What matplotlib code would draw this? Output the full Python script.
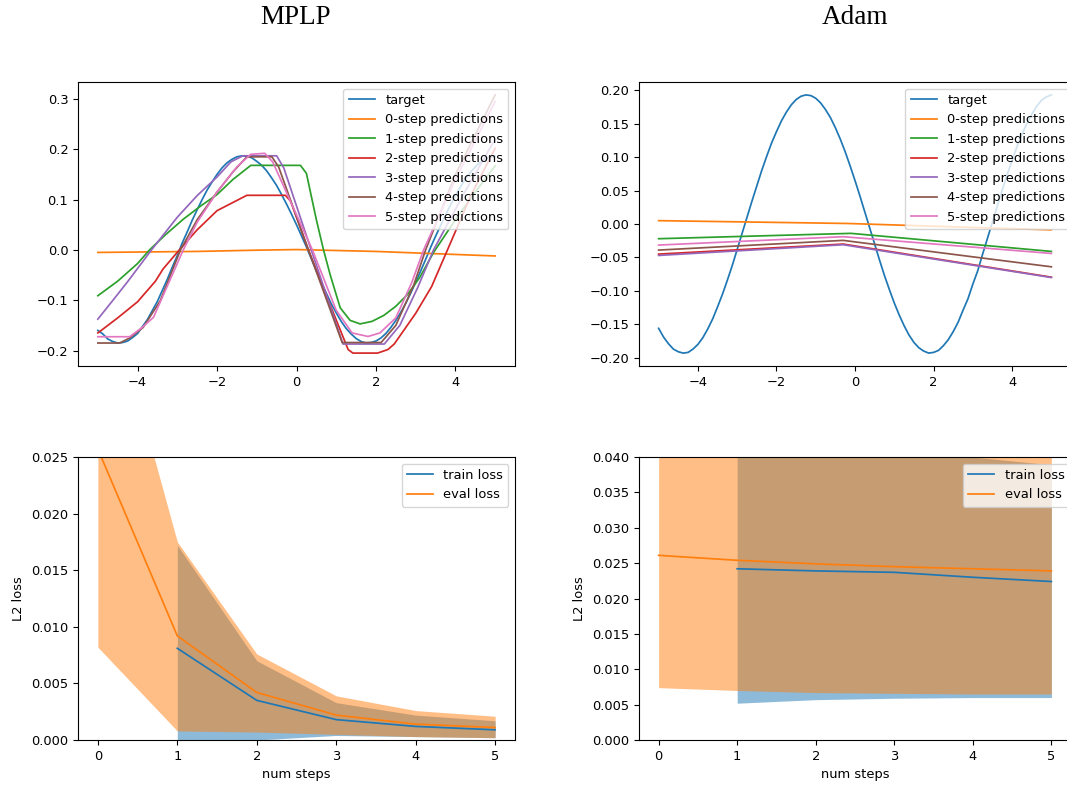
import numpy as np
import matplotlib
matplotlib.use('Agg')
import matplotlib.pyplot as plt

plt.rcParams['font.size'] = 9.4

# ---- top row: sine regression, x from -5 to 5 ----
x_grid = np.linspace(-5, 5, 81)

mplp_target = [
    -0.160, -0.167, -0.177, -0.182, -0.185, -0.184, -0.181, -0.174,
    -0.166, -0.152, -0.138, -0.120, -0.102, -0.080, -0.058, -0.034,
    -0.011, 0.014, 0.036, 0.059, 0.080, 0.100, 0.119, 0.135,
    0.150, 0.163, 0.173, 0.180, 0.185, 0.187, 0.186, 0.183,
    0.176, 0.168, 0.157, 0.143, 0.128, 0.110, 0.091, 0.071,
    0.050, 0.028, 0.006, -0.018, -0.042, -0.065, -0.086, -0.107,
    -0.125, -0.142, -0.156, -0.167, -0.176, -0.182, -0.185, -0.184,
    -0.181, -0.175, -0.166, -0.154, -0.140, -0.124, -0.106, -0.086,
    -0.064, -0.042, -0.019, 0.005, 0.027, 0.048, 0.069, 0.089,
    0.108, 0.125, 0.141, 0.154, 0.165, 0.174, 0.181, 0.185,
    0.186]

adam_target = [
    -0.156, -0.169, -0.179, -0.187, -0.191, -0.193, -0.192, -0.187,
    -0.180, -0.170, -0.157, -0.142, -0.124, -0.105, -0.084, -0.062,
    -0.038, -0.014, 0.010, 0.034, 0.057, 0.080, 0.101, 0.121,
    0.138, 0.154, 0.167, 0.178, 0.186, 0.191, 0.193, 0.192,
    0.188, 0.181, 0.171, 0.159, 0.144, 0.127, 0.108, 0.087,
    0.065, 0.042, 0.018, -0.006, -0.030, -0.054, -0.077, -0.098,
    -0.118, -0.136, -0.152, -0.166, -0.177, -0.185, -0.190, -0.193,
    -0.192, -0.189, -0.182, -0.173, -0.161, -0.147, -0.129, -0.112,
    -0.090, -0.070, -0.045, -0.021, 0.003, 0.027, 0.051, 0.074,
    0.095, 0.116, 0.134, 0.150, 0.164, 0.176, 0.185, 0.190,
    0.193]

# MPLP k-step predictions (x, y)
mplp_pred = [
    ([-5, -2.5, -1, 0, 2, 4, 5],
     [-0.005, -0.003, -0.0005, 0.0007, -0.003, -0.009, -0.012]),
    ([-5, -4.5, -4, -3.7, -3.3, -2.85, -2.4, -2.0, -1.6, -1.15, 0.1, 0.25, 0.5,
      0.68, 0.85, 1.1, 1.35, 1.6, 1.9, 2.2, 2.5, 2.8, 3.1, 3.45, 4.0, 4.5, 5.0],
     [-0.091, -0.062, -0.027, 0.0, 0.03, 0.061, 0.088, 0.11, 0.14, 0.168, 0.168,
      0.152, 0.06, 0.0, -0.05, -0.115, -0.14, -0.147, -0.142, -0.13, -0.112,
      -0.088, -0.055, -0.005, 0.06, 0.115, 0.167]),
    ([-5, -4.5, -4.0, -3.55, -3.36, -2.95, -2.5, -2.0, -1.25, -0.28, -0.15, 0.3,
      0.8, 1.3, 1.42, 2.04, 2.3, 2.46, 3.0, 3.4, 3.8, 4.4, 5.0],
     [-0.165, -0.135, -0.103, -0.062, -0.038, 0.0, 0.04, 0.078, 0.1085, 0.1085,
      0.097, 0.0, -0.1, -0.198, -0.205, -0.205, -0.198, -0.187, -0.126, -0.073,
      0.0, 0.11, 0.202]),
    ([-5, -4.6, -4.24, -3.65, -3.0, -2.5, -2.0, -1.65, -1.35, -0.5, -0.32, 0.37,
      0.52, 1.17, 2.21, 2.6, 3.05, 3.45, 4.2, 5.0],
     [-0.1375, -0.098, -0.062, 0.0, 0.065, 0.108, 0.145, 0.175, 0.187, 0.187,
      0.163, 0.0, -0.035, -0.187, -0.187, -0.15, -0.075, 0.0, 0.11, 0.22]),
    ([-5, -4.45, -4.2, -3.86, -3.43, -2.92, -2.5, -2.0, -1.6, -1.25, -0.62, -0.45,
      0.3, 1.15, 2.13, 2.5, 2.95, 3.25, 4.0, 5.0],
     [-0.185, -0.185, -0.175, -0.154, -0.101, 0.0, 0.06, 0.115, 0.155, 0.185,
      0.185, 0.165, 0.0, -0.184, -0.184, -0.15, -0.07, 0.0, 0.15, 0.308]),
    ([-5, -4.2, -3.9, -3.6, -3.27, -2.85, -2.5, -2.0, -1.5, -1.15, -0.8, -0.6,
      0.4, 1.0, 1.4, 1.8, 2.1, 2.5, 2.9, 3.2, 4.0, 5.0],
     [-0.1725, -0.1725, -0.155, -0.134, -0.075, 0.0, 0.055, 0.115, 0.165, 0.19,
      0.192, 0.175, 0.0, -0.12, -0.165, -0.172, -0.165, -0.135, -0.065, 0.0,
      0.14, 0.295]),
]

# Adam k-step predictions (x, y)
adam_pred = [
    ([-5, -0.2, 5], [0.005, 0.0008, -0.0088]),
    ([-5, -0.1, 5], [-0.022, -0.014, -0.041]),
    ([-5, -0.3, 5], [-0.045, -0.030, -0.0795]),
    ([-5, -0.3, 5], [-0.047, -0.031, -0.080]),
    ([-5, -0.3, 5], [-0.039, -0.0245, -0.064]),
    ([-5, -0.3, 5], [-0.0315, -0.019, -0.044]),
]

pred_labels = ['0-step predictions', '1-step predictions', '2-step predictions',
               '3-step predictions', '4-step predictions', '5-step predictions']

# ---- bottom row: loss vs num steps ----
eval_steps = [0, 1, 2, 3, 4, 5]
train_steps = [1, 2, 3, 4, 5]

mplp_eval = [0.0257, 0.0092, 0.0042, 0.0022, 0.0014, 0.0011]
mplp_eval_lo = [0.0082, 0.0008, 0.0007, 0.0005, 0.0003, 0.0002]
mplp_eval_hi = [0.0430, 0.0175, 0.0076, 0.0039, 0.0026, 0.0021]
mplp_train = [0.0081, 0.0035, 0.0018, 0.0012, 0.0009]
mplp_train_lo = [-0.0010, 0.0000, 0.0004, 0.0003, 0.0002]
mplp_train_hi = [0.0172, 0.0070, 0.0033, 0.0022, 0.0017]

adam_eval = [0.0261, 0.0254, 0.0249, 0.0245, 0.0242, 0.0239]
adam_eval_lo = [0.0074, 0.0070, 0.0067, 0.0066, 0.0065, 0.0065]
adam_eval_hi = [0.0447, 0.0439, 0.0431, 0.0424, 0.0419, 0.0412]
adam_train = [0.0242, 0.0239, 0.0237, 0.0230, 0.0224]
adam_train_lo = [0.0052, 0.0057, 0.0059, 0.0060, 0.0060]
adam_train_hi = [0.0432, 0.0421, 0.0415, 0.0400, 0.0389]

W, H = 1067, 785
fig = plt.figure(figsize=(W / 100, H / 100), dpi=100)


def box(l, t, r, b):
    return [l / W, 1 - b / H, (r - l) / W, (b - t) / H]


ax_tl = fig.add_axes(box(78, 82, 515, 366))
ax_tr = fig.add_axes(box(639, 82, 1071, 366))
ax_bl = fig.add_axes(box(78, 457, 515, 740))
ax_br = fig.add_axes(box(639, 457, 1071, 740))

lw = 1.25
for ax, target, preds, anchor in [(ax_tl, mplp_target, mplp_pred, 1.0),
                                  (ax_tr, adam_target, adam_pred, 1.014)]:
    ax.plot(x_grid, target, color='C0', lw=lw, label='target')
    for i, (px, py) in enumerate(preds):
        ax.plot(px, py, color='C%d' % (i + 1), lw=lw, label=pred_labels[i])
    ax.legend(loc='upper right', bbox_to_anchor=(anchor, 1.0))

for ax, tr, tr_lo, tr_hi, ev, ev_lo, ev_hi, top, anchor in [
        (ax_bl, mplp_train, mplp_train_lo, mplp_train_hi, mplp_eval, mplp_eval_lo, mplp_eval_hi, 0.025, 1.0),
        (ax_br, adam_train, adam_train_lo, adam_train_hi, adam_eval, adam_eval_lo, adam_eval_hi, 0.040, 1.012)]:
    ax.fill_between(train_steps, tr_lo, tr_hi, color='C0', alpha=0.5, lw=0)
    ax.fill_between(eval_steps, ev_lo, ev_hi, color='C1', alpha=0.5, lw=0)
    ax.plot(train_steps, tr, color='C0', lw=lw, label='train loss')
    ax.plot(eval_steps, ev, color='C1', lw=lw, label='eval loss')
    ax.set_ylim(0, top)
    ax.set_xlabel('num steps')
    ax.set_ylabel('L2 loss')
    ax.legend(loc='upper right', bbox_to_anchor=(anchor, 1.0))

ax_bl.set_yticks(np.arange(0, 0.0251, 0.005))
ax_br.set_yticks(np.arange(0, 0.0401, 0.005))
ax_bl.yaxis.set_major_formatter(matplotlib.ticker.FormatStrFormatter('%.3f'))
ax_br.yaxis.set_major_formatter(matplotlib.ticker.FormatStrFormatter('%.3f'))

serif = ['Liberation Serif', 'DejaVu Serif']
fig.text(296 / W, 1 - 18 / H, 'MPLP', ha='center', va='center', fontsize=19.5, family=serif)
fig.text(855 / W, 1 - 18 / H, 'Adam', ha='center', va='center', fontsize=19.5, family=serif)

fig.savefig('out.png', dpi=100)
